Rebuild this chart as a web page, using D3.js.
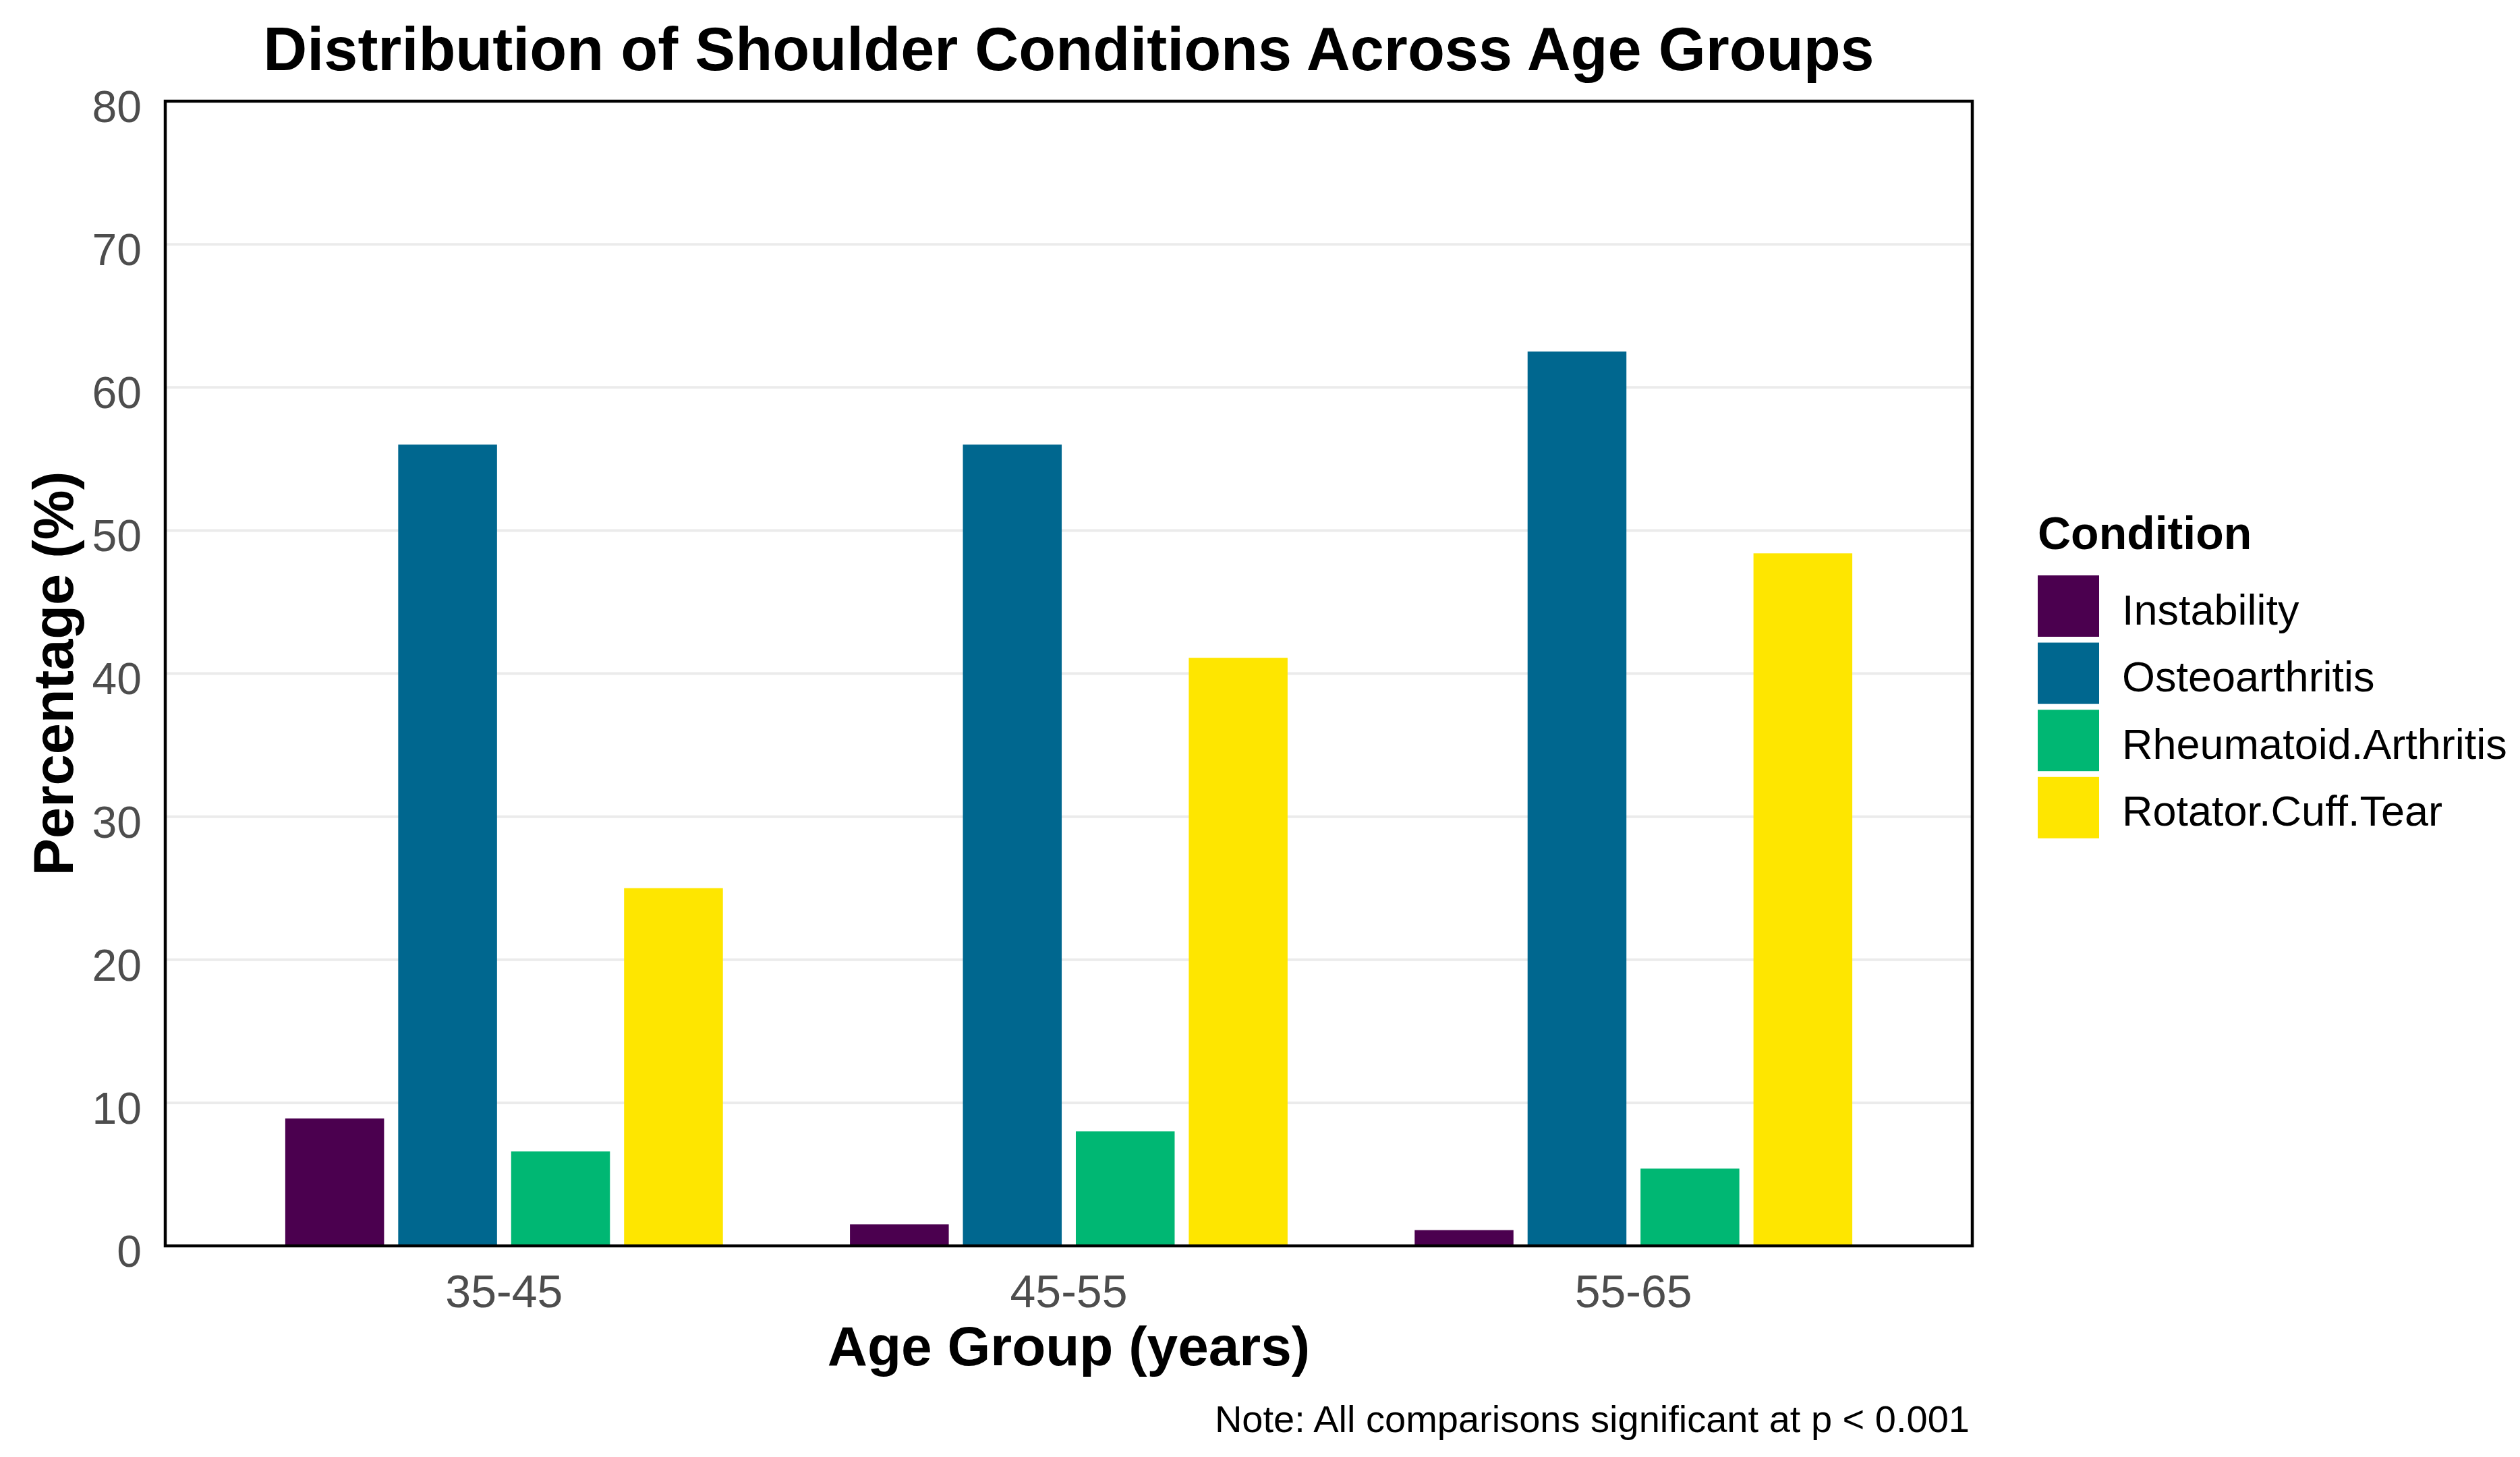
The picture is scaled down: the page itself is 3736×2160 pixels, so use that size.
<!DOCTYPE html>
<html>
<head>
<meta charset="utf-8">
<script src="https://cdn.jsdelivr.net/npm/d3@7"></script>
<style>
  html, body { margin: 0; padding: 0; background: #fff; }
  svg { display: block; font-family: "Liberation Sans", Arial, sans-serif; }
</style>
</head>
<body>
<div id="chart"></div>
<script>
// data
const ageGroups = ["35-45", "45-55", "55-65"];
const conditions = ["Instability", "Osteoarthritis", "Rheumatoid.Arthritis", "Rotator.Cuff.Tear"];
const instability = [8.9, 1.5, 1.1];
const osteoarthritis = [56.0, 56.0, 62.5];
const rheumatoid = [6.6, 8.0, 5.4];
const rotatorCuff = [25.0, 41.1, 48.4];
const yTicks = [0, 10, 20, 30, 40, 50, 60, 70, 80];
const colors = ["#4b004f", "#00678f", "#00b773", "#fee600"];

const seriesValues = [instability, osteoarthritis, rheumatoid, rotatorCuff];

// flatten into one row per bar
const rows = [];
ageGroups.forEach((g, gi) => {
  conditions.forEach((c, ci) => {
    rows.push({ group: g, condition: c, value: seriesValues[ci][gi] });
  });
});

const W = 3736, H = 2160;
const panel = { left: 245, right: 2924, top: 150, bottom: 1847 };

const svg = d3.select("#chart")
  .append("svg")
  .attr("width", W)
  .attr("height", H);

// scales
const x = d3.scaleBand()
  .domain(ageGroups)
  .range([panel.left, panel.right])
  .paddingInner(0)
  .paddingOuter(0.1);

const step = x.step();
const xInner = d3.scaleBand()
  .domain(conditions)
  .range([-0.4 * step, 0.4 * step])
  .paddingInner(0.125)
  .paddingOuter(0.0625);

const y = d3.scaleLinear()
  .domain([0, 80])
  .range([panel.bottom, panel.top]);

const color = d3.scaleOrdinal()
  .domain(conditions)
  .range(colors);

// gridlines
svg.append("g")
  .selectAll("line")
  .data(yTicks.filter(t => t > 0 && t < 80))
  .join("line")
  .attr("x1", panel.left)
  .attr("x2", panel.right)
  .attr("y1", d => y(d))
  .attr("y2", d => y(d))
  .attr("stroke", "#ebebeb")
  .attr("stroke-width", 4);

// bars
svg.append("g")
  .selectAll("rect")
  .data(rows)
  .join("rect")
  .attr("x", d => x(d.group) + step / 2 + xInner(d.condition))
  .attr("width", xInner.bandwidth())
  .attr("y", d => y(d.value))
  .attr("height", d => y(0) - y(d.value))
  .attr("fill", d => color(d.condition));

// panel border
svg.append("rect")
  .attr("x", panel.left)
  .attr("y", panel.top)
  .attr("width", panel.right - panel.left)
  .attr("height", panel.bottom - panel.top)
  .attr("fill", "none")
  .attr("stroke", "#000")
  .attr("stroke-width", 4.5);

// y axis
const yAxis = svg.append("g")
  .attr("transform", `translate(${panel.left},0)`)
  .call(d3.axisLeft(y).tickValues(yTicks).tickSize(0).tickPadding(35));
yAxis.select(".domain").remove();
yAxis.selectAll("text")
  .attr("dy", "0.46em")
  .style("font-size", "66px")
  .style("font-family", "'Liberation Sans', Arial, sans-serif")
  .attr("fill", "#4d4d4d");

// x axis
const xAxis = svg.append("g")
  .attr("transform", `translate(0,${panel.bottom})`)
  .call(d3.axisBottom(x).tickSize(0).tickPadding(43));
xAxis.select(".domain").remove();
xAxis.selectAll("text")
  .attr("dy", "0.71em")
  .style("font-size", "68px")
  .style("font-family", "'Liberation Sans', Arial, sans-serif")
  .attr("fill", "#4d4d4d");

const cx = (panel.left + panel.right) / 2;

// title
svg.append("text")
  .attr("x", cx)
  .attr("y", 104)
  .attr("text-anchor", "middle")
  .style("font-size", "90px")
  .style("font-weight", "bold")
  .text("Distribution of Shoulder Conditions Across Age Groups");

// axis titles
svg.append("text")
  .attr("x", cx)
  .attr("y", 2024)
  .attr("text-anchor", "middle")
  .style("font-size", "82px")
  .style("font-weight", "bold")
  .text("Age Group (years)");

svg.append("text")
  .attr("transform", `translate(108,${(panel.top + panel.bottom) / 2}) rotate(-90)`)
  .attr("text-anchor", "middle")
  .style("font-size", "83px")
  .style("font-weight", "bold")
  .text("Percentage (%)");

// caption
svg.append("text")
  .attr("x", 2920)
  .attr("y", 2123)
  .attr("text-anchor", "end")
  .style("font-size", "56px")
  .text("Note: All comparisons significant at p < 0.001");

// legend
const legend = svg.append("g").attr("transform", "translate(3021,0)");
legend.append("text")
  .attr("x", 0)
  .attr("y", 814)
  .style("font-size", "68px")
  .style("font-weight", "bold")
  .text("Condition");

const keySize = 91, keyStep = 99.6, keyTop = 853;
const items = legend.selectAll("g.item")
  .data(conditions)
  .join("g")
  .attr("class", "item")
  .attr("transform", (d, i) => `translate(0,${keyTop + i * keyStep})`);

items.append("rect")
  .attr("width", keySize)
  .attr("height", keySize)
  .attr("fill", d => color(d));

items.append("text")
  .attr("x", 125)
  .attr("y", keySize / 2 + 27)
  .style("font-size", "63px")
  .text(d => d);
</script>
</body>
</html>
